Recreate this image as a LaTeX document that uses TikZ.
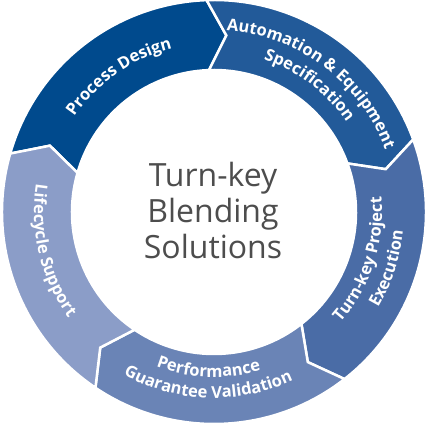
\documentclass[tikz,border=0pt]{standalone}
\usepackage{fontspec}
\setmainfont{Open Sans}
\usetikzlibrary{decorations.text}

\definecolor{procblue}{HTML}{004A8D}
\definecolor{autoblue}{HTML}{225A99}
\definecolor{execblue}{HTML}{4A6CA6}
\definecolor{perfblue}{HTML}{6A84B6}
\definecolor{lifeblue}{HTML}{8B9DC8}
\definecolor{titlegray}{HTML}{4D4D4D}

\tikzset{
  seg/.style={fill=#1, draw=white, line width=2.5pt, line join=miter},
  ringtext/.style={decorate, decoration={text along path, text align=center,
      text color=white, text={|\fontsize{16.5}{16.5}\selectfont\bfseries|#1}}},
}

\begin{document}
\begin{tikzpicture}[line cap=round, x=1pt, y=1pt]
                \useasboundingbox (-214,-213) rectangle (216,212);
                % five arrow segments, clockwise from the top left
                \foreach \s/\c in {164/procblue, 92/autoblue, 20/execblue, -52/perfblue, -124/lifeblue} {
                    \pgfmathsetmacro\e{\s-72}
                    \filldraw[seg=\c] (\s:212) arc[start angle=\s, end angle=\e, radius=212]
                        -- ({\e-6}:177) -- (\e:142) arc[start angle=\e, end angle=\s, radius=142]
                        -- ({\s-6}:177) -- cycle;
                }
                % labels on the ring
                \path[ringtext={Process Design}] (165:169) arc[start angle=165, end angle=85, radius=169];
                \path[ringtext={Automation {\&} Equipment}] (98:182) arc[start angle=98, end angle=8, radius=182];
                \path[ringtext={Specification}] (93:160) arc[start angle=93, end angle=13, radius=160];
                \path[ringtext={Turn-key Project}] (-63:168) arc[start angle=-63, end angle=27, radius=168];
                \path[ringtext={Execution}] (-58:190) arc[start angle=-58, end angle=22, radius=190];
                \path[ringtext={Performance}] (-132:165) arc[start angle=-132, end angle=-52, radius=165];
                \path[ringtext={Guarantee Validation}] (-137:186) arc[start angle=-137, end angle=-47, radius=186];
                \path[ringtext={Lifecycle Support}] (153.5:180) arc[start angle=153.5, end angle=233.5, radius=180];
                % centre title
                \node[align=center, inner sep=0pt, text=titlegray, font=\fontsize{32}{36}\selectfont] (title) at (-1,2) {Turn-key\\Blending\\Solutions};
            \end{tikzpicture}
\end{document}
